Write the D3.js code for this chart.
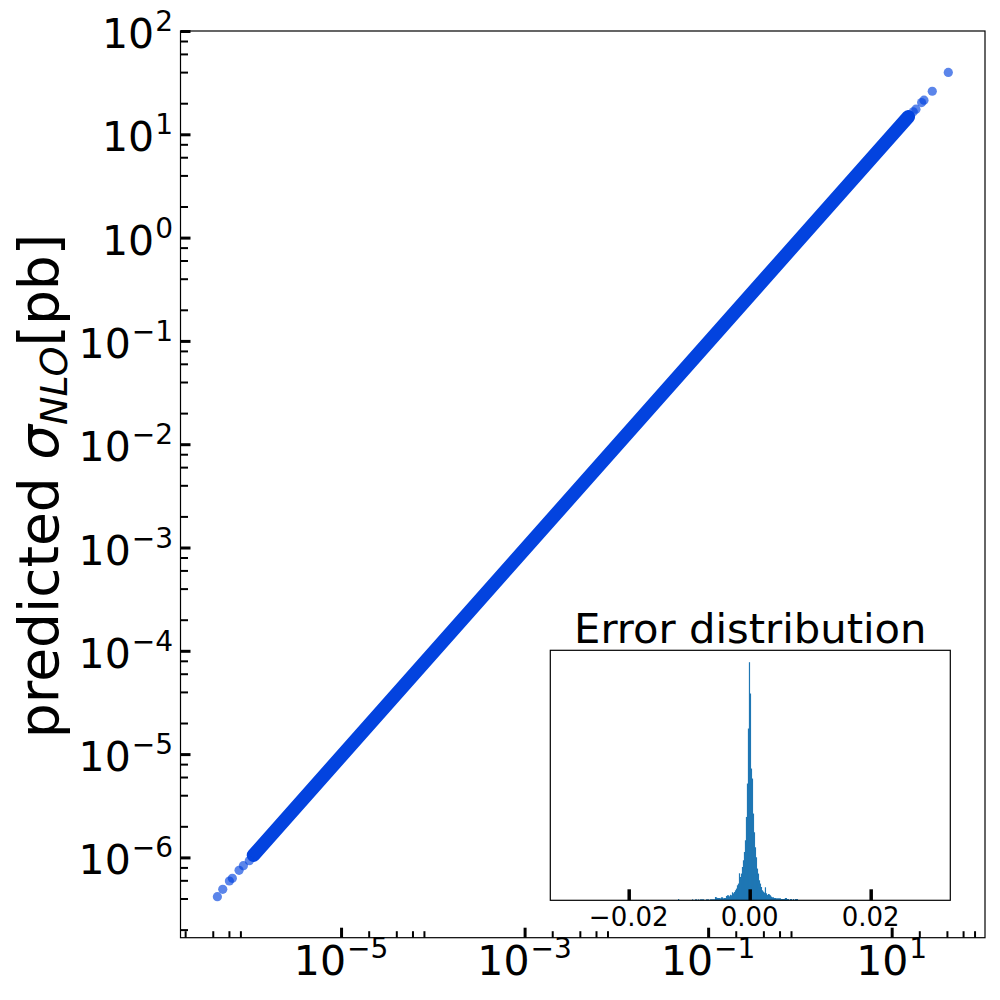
<!DOCTYPE html>
<html>
<head>
<meta charset="utf-8">
<script src="https://cdn.jsdelivr.net/npm/d3@7"></script>
<style>
  body { margin: 0; background: #fff; }
  text { font-family: "DejaVu Sans", sans-serif; fill: #000; }
</style>
</head>
<body>
<script>
// true vs predicted NLO cross section [pb]; isolated points at both ends
var sparseTrue = [4.49e-7, 5.14e-7, 6.07e-7, 6.54e-7, 7.74e-7, 8.62e-7, 1.00e-6,
    17.2, 18.4, 21.2, 22.5, 27.7, 41.4];
var sparsePred = [4.17e-7, 4.91e-7, 5.91e-7, 6.28e-7, 7.50e-7, 8.31e-7, 9.29e-7,
    16.5, 17.5, 20.3, 21.4, 26.1, 39.7];
// where the points overlap into one solid band
var bandTrue = [1.11e-6, 15.2];
var bandPred = [1.05e-6, 14.8];

var xMajorExp = [-5, -3, -1, 1];
var xMinorExp = [-7, -5, -3, -1, 1];
var yMajorExp = [-6, -5, -4, -3, -2, -1, 0, 1, 2];
var minorSubs = [2, 4, 6, 8];

// error distribution histogram
var errBinStart = -0.01185;
var errBinWidth = 0.000165;
var errCounts = [
    13, 0, 0, 0, 0, 0, 0, 0, 0, 0, 0, 0, 0, 0, 10, 0, 0, 10, 10, 0,
    10, 0, 10, 10, 10, 10, 0, 0, 10, 10, 10, 0, 10, 10, 10, 10, 10, 33, 30, 23,
    23, 23, 20, 30, 30, 20, 23, 23, 43, 50, 50, 40, 55, 50, 80, 70, 83, 100, 117, 150,
    167, 270, 233, 267, 333, 400, 483, 600, 833, 1167, 1717, 2380, 2067, 1317, 1217, 867, 680, 530, 430, 317,
    267, 200, 167, 133, 100, 87, 77, 130, 70, 53, 63, 60, 50, 37, 30, 30, 23, 23, 20, 20,
    20, 20, 20, 13, 13, 13, 13, 23, 23, 13, 13, 0, 13, 13, 0, 13, 0, 13, 13, 13
];
var errTicks = [-0.02, 0, 0.02];

var width = 1000, height = 1000;
var svg = d3.select("body").append("svg")
    .attr("width", width)
    .attr("height", height);

var x = d3.scaleLog().domain([1.78e-7, 104]).range([180.5, 985]);
var y = d3.scaleLog().domain([1.67e-7, 100]).range([937.7, 31]);

function pow10(exp) {
    return Math.pow(10, exp);
}
function minorValues(exps) {
    var out = [];
    exps.forEach(function (e) {
        minorSubs.forEach(function (s) {
            out.push(s * pow10(e));
        });
    });
    return out;
}
function styleTicks(g, w) {
    g.select(".domain").remove();
    g.selectAll(".tick line").attr("stroke", "#000").attr("stroke-width", w);
    g.selectAll(".tick text").remove();
}
function powLabel(t, exp) {
    t.append("tspan").text("10");
    t.append("tspan")
        .attr("dy", -17)
        .attr("dx", 1)
        .attr("font-size", 28)
        .text(exp < 0 ? "\u2212" + (-exp) : String(exp));
}

// scatter
var band = d3.line()
    .x(function (d) { return x(d[0]); })
    .y(function (d) { return y(d[1]); });
svg.append("path")
    .datum(d3.zip(bandTrue, bandPred))
    .attr("d", band)
    .attr("fill", "none")
    .attr("stroke", "#0343df")
    .attr("stroke-width", 13.5)
    .attr("stroke-linecap", "round");

svg.append("g")
    .selectAll("circle")
    .data(d3.zip(sparseTrue, sparsePred))
    .enter().append("circle")
    .attr("cx", function (d) { return x(d[0]); })
    .attr("cy", function (d) { return y(d[1]); })
    .attr("r", 4.6)
    .attr("fill", "#0343df")
    .attr("fill-opacity", 0.65);

// x axis ticks (inward)
var xMinorVals = minorValues(xMinorExp).filter(function (v) {
    return v >= x.domain()[0] && v <= x.domain()[1];
});
svg.append("g")
    .attr("transform", "translate(0,937.7)")
    .call(d3.axisBottom(x).tickValues(xMinorVals).tickSize(-6.5))
    .call(styleTicks, 2);
svg.append("g")
    .attr("transform", "translate(0,937.7)")
    .call(d3.axisBottom(x).tickValues(xMajorExp.map(pow10)).tickSize(-10))
    .call(styleTicks, 3);

// y axis ticks (inward)
var yMinorVals = minorValues([-7].concat(yMajorExp)).filter(function (v) {
    return v >= y.domain()[0] && v <= y.domain()[1];
});
svg.append("g")
    .attr("transform", "translate(180.5,0)")
    .call(d3.axisLeft(y).tickValues(yMinorVals).tickSize(-7.5))
    .call(styleTicks, 2);
svg.append("g")
    .attr("transform", "translate(180.5,0)")
    .call(d3.axisLeft(y).tickValues(yMajorExp.map(pow10)).tickSize(-10))
    .call(styleTicks, 3);

// frame
svg.append("rect")
    .attr("x", 180.5).attr("y", 31)
    .attr("width", 985 - 180.5).attr("height", 937.7 - 31)
    .attr("fill", "none")
    .attr("stroke", "#000")
    .attr("stroke-width", 1.2);

// tick labels
svg.append("g").selectAll("text")
    .data(xMajorExp)
    .enter().append("text")
    .attr("x", function (d) { return x(pow10(d)); })
    .attr("y", 975)
    .attr("text-anchor", "middle")
    .attr("font-size", 41)
    .each(function (d) { powLabel(d3.select(this), d); });

svg.append("g").selectAll("text")
    .data(yMajorExp)
    .enter().append("text")
    .attr("x", 173)
    .attr("y", function (d) { return y(pow10(d)) + 17; })
    .attr("text-anchor", "end")
    .attr("font-size", 41)
    .each(function (d) { powLabel(d3.select(this), d); });

// y label
var yl = svg.append("text")
    .attr("transform", "translate(58,486) rotate(-90)")
    .attr("text-anchor", "middle")
    .attr("font-size", 55);
yl.append("tspan").text("predicted ");
yl.append("tspan").attr("font-style", "italic").text("\u03c3");
yl.append("tspan").attr("font-style", "italic").attr("font-size", 38).attr("dy", 9).text("NLO");
yl.append("tspan").attr("dy", -9).text("[pb]");

// inset: error distribution
var ix = d3.scaleLinear().domain([-0.03296, 0.03316]).range([550.3, 950.3]);
var binMax = d3.max(errCounts);
var iy = d3.scaleLinear().domain([0, binMax * 1.05]).range([900.3, 650.3]);

var inset = svg.append("g");
inset.append("rect")
    .attr("x", 550.3).attr("y", 650.3)
    .attr("width", 400).attr("height", 250)
    .attr("fill", "#fff");

inset.append("g")
    .selectAll("rect")
    .data(errCounts)
    .enter().append("rect")
    .attr("x", function (d, i) { return ix(errBinStart + i * errBinWidth); })
    .attr("width", function (d, i) {
        return ix(errBinStart + (i + 1) * errBinWidth) - ix(errBinStart + i * errBinWidth) + 0.2;
    })
    .attr("y", function (d) { return iy(d); })
    .attr("height", function (d) { return iy(0) - iy(d); })
    .attr("fill", "#1f77b4");

inset.append("g")
    .attr("transform", "translate(0,900.3)")
    .call(d3.axisBottom(ix).tickValues(errTicks).tickSize(-11))
    .call(function (g) {
        g.select(".domain").remove();
        g.selectAll(".tick line").attr("stroke", "#000").attr("stroke-width", 3.5);
        g.selectAll(".tick text").remove();
    });

inset.append("g").selectAll("text")
    .data(errTicks)
    .enter().append("text")
    .attr("x", function (d) { return ix(d); })
    .attr("y", 926)
    .attr("text-anchor", "middle")
    .attr("font-size", 26)
    .text(function (d) { return d3.format(".2f")(d).replace("-", "\u2212"); });

inset.append("rect")
    .attr("x", 550.3).attr("y", 650.3)
    .attr("width", 400).attr("height", 250)
    .attr("fill", "none")
    .attr("stroke", "#000")
    .attr("stroke-width", 1.2);

inset.append("text")
    .attr("x", 750.3)
    .attr("y", 643)
    .attr("text-anchor", "middle")
    .attr("font-size", 41.7)
    .text("Error distribution");
</script>
</body>
</html>
